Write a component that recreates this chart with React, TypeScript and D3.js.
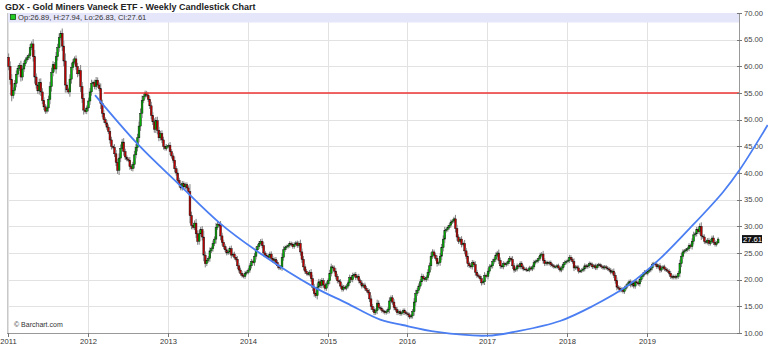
import React from "react";
import * as d3 from "d3";

// Weekly closes per year
const closes2011 = [60.0, 57.5, 54.5, 55.5, 56.8, 58.5, 59.6, 60.2, 58.0, 59.5, 60.5, 61.2, 61.6, 62.0, 63.5, 64.2, 61.8, 58.0, 56.5, 55.4, 57.0, 55.2, 53.6, 52.4, 51.6, 52.2, 53.8, 56.2, 58.8, 60.3, 59.5, 61.8, 63.5, 65.4, 66.2, 63.8, 61.0, 56.5, 55.6, 55.2, 57.6, 59.8, 60.8, 61.4, 60.0, 58.6, 59.2, 56.2, 54.0, 51.8, 51.5, 52.2];
const closes2012 = [53.5, 55.2, 56.8, 57.0, 56.2, 57.4, 56.5, 55.8, 53.0, 51.2, 50.0, 49.4, 48.6, 47.8, 46.2, 45.0, 44.8, 43.6, 42.0, 40.5, 42.8, 44.6, 45.8, 44.0, 43.0, 42.6, 42.4, 41.2, 40.8, 41.6, 43.4, 44.8, 46.6, 48.8, 51.2, 53.6, 54.4, 55.0, 54.6, 53.8, 52.6, 50.8, 49.6, 48.2, 49.8, 48.0, 46.6, 47.4, 46.2, 45.0, 44.6, 45.0];
const closes2013 = [45.2, 44.0, 43.2, 42.4, 40.8, 40.0, 38.6, 37.8, 37.2, 38.0, 37.4, 37.8, 37.2, 36.5, 32.0, 30.2, 29.8, 30.6, 28.6, 27.2, 28.6, 29.4, 28.0, 24.6, 23.0, 23.6, 24.0, 25.4, 25.8, 26.8, 27.6, 29.8, 30.4, 30.2, 28.2, 27.0, 26.2, 25.6, 25.0, 25.2, 25.8, 24.6, 24.8, 24.2, 23.8, 22.6, 21.8, 21.2, 20.8, 20.6, 21.2, 21.4];
const closes2014 = [21.8, 22.6, 23.4, 23.2, 24.4, 25.6, 26.2, 26.8, 27.2, 26.4, 25.0, 24.6, 24.4, 24.2, 24.8, 24.0, 23.6, 23.8, 23.2, 22.6, 22.2, 22.4, 24.2, 25.6, 26.0, 26.2, 26.4, 26.8, 26.6, 26.2, 26.6, 26.9, 26.4, 26.8, 25.2, 23.8, 22.4, 21.6, 21.2, 21.0, 21.4, 20.2, 18.6, 17.4, 17.0, 18.6, 19.6, 18.9, 19.8, 19.0, 18.4, 19.2];
const closes2015 = [19.8, 21.2, 22.4, 22.2, 21.6, 20.6, 19.8, 19.6, 18.8, 18.2, 18.6, 18.4, 18.8, 19.4, 20.4, 20.0, 20.8, 21.0, 20.4, 20.6, 19.8, 19.4, 18.8, 19.0, 18.4, 18.0, 17.6, 16.4, 15.0, 14.4, 13.8, 14.2, 15.6, 14.8, 14.6, 14.2, 14.0, 13.8, 14.0, 14.4, 16.0, 16.6, 15.8, 14.8, 14.4, 13.8, 14.0, 13.6, 13.8, 14.2, 13.8, 13.6];
const closes2016 = [13.4, 13.0, 13.2, 14.0, 15.8, 17.4, 18.0, 18.8, 19.6, 20.6, 20.2, 20.0, 20.4, 21.4, 22.6, 24.4, 25.2, 24.6, 24.0, 23.0, 23.2, 24.4, 26.0, 27.6, 29.2, 29.4, 29.8, 30.2, 30.8, 31.0, 31.4, 29.6, 28.0, 27.2, 27.6, 26.6, 26.8, 25.4, 24.4, 23.0, 22.6, 22.4, 23.2, 22.8, 21.4, 20.8, 20.6, 20.2, 19.4, 19.6, 20.8, 20.6];
const closes2017 = [21.6, 22.4, 22.6, 23.4, 23.8, 24.6, 25.0, 23.6, 22.6, 22.4, 23.0, 22.8, 23.0, 23.4, 24.0, 23.8, 22.6, 21.8, 22.0, 22.6, 22.4, 23.0, 22.4, 22.0, 22.0, 21.8, 21.8, 22.2, 22.0, 22.4, 23.2, 23.4, 23.6, 24.0, 24.6, 24.8, 23.6, 23.0, 23.2, 23.0, 23.2, 22.8, 22.6, 22.4, 22.4, 22.6, 22.2, 21.8, 22.2, 22.8, 23.2, 23.4];
const closes2018 = [23.6, 24.2, 23.8, 23.4, 22.2, 22.4, 22.2, 21.6, 21.6, 21.8, 22.0, 22.6, 22.4, 22.6, 23.0, 22.8, 22.4, 22.6, 22.2, 22.6, 22.8, 22.6, 22.4, 22.2, 22.4, 22.2, 22.0, 21.8, 21.4, 21.6, 20.8, 19.8, 18.6, 18.4, 18.0, 18.2, 17.8, 18.4, 18.8, 19.2, 19.6, 19.0, 19.4, 18.8, 19.6, 19.4, 19.2, 20.0, 20.6, 21.0, 21.4, 21.2];
const closes2019 = [21.6, 21.8, 22.2, 22.8, 23.0, 22.8, 22.4, 22.6, 21.8, 22.2, 22.4, 22.0, 21.8, 21.6, 21.2, 20.6, 20.4, 20.6, 20.4, 20.6, 21.2, 23.0, 24.4, 25.2, 25.4, 25.6, 25.8, 26.4, 26.2, 27.2, 28.4, 28.6, 29.4, 29.0, 30.0, 28.2, 28.0, 27.2, 27.0, 27.4, 26.8, 27.2, 27.8, 27.0, 26.6, 26.89, 27.61];

const yearList = [2011, 2012, 2013, 2014, 2015, 2016, 2017, 2018, 2019];
const closesByYear = [closes2011, closes2012, closes2013, closes2014, closes2015, closes2016, closes2017, closes2018, closes2019];

const firstOpen = 61.7;
const lastBar = { open: 26.89, high: 27.94, low: 26.83, close: 27.61 };

// Trend curve (decimal year, value)
const curveYears = [2012.09, 2012.63, 2013.13, 2013.65, 2014.15, 2014.82, 2015.24, 2015.66, 2015.94, 2016.37, 2017.0, 2017.4, 2017.91, 2018.32, 2018.75, 2019.16, 2019.54, 2019.95, 2020.16, 2020.51];
const curveValues = [54.6, 45.3, 38.0, 30.6, 25.0, 18.7, 15.6, 12.5, 11.5, 10.2, 9.5, 10.4, 12.25, 15.06, 18.8, 23.9, 29.7, 36.4, 40.6, 49.0];

const resistanceLevel = 55;
const resistanceStart = 2012.2;

const yTicks = [10, 15, 20, 25, 30, 35, 40, 45, 50, 55, 60, 65, 70];
const xTickYears = [2011, 2012, 2013, 2014, 2015, 2016, 2017, 2018, 2019];

const W = 768, H = 347;
const PL = 7, PR = 740, PT = 13, PB = 333;

function decYear(y: number) {
  const yr = Math.floor(y);
  const start = new Date(yr, 0, 1).getTime();
  const end = new Date(yr + 1, 0, 1).getTime();
  return new Date(start + (y - yr) * (end - start));
}

export default function App() {
  const x = d3.scaleTime().domain([new Date(2011, 0, 1), new Date(2020, 2, 1)]).range([PL + 1, PR]);
  const y = d3.scaleLinear().domain([10, 70]).range([PB, PT]);

  type Bar = { date: Date; open: number; high: number; low: number; close: number };
  const bars: Bar[] = [];
  let prev = firstOpen;
  yearList.forEach((yr, k) => {
    closesByYear[k].forEach((c, i) => {
      const o = prev;
      const hi = Math.max(o, c) + 0.3 + Math.abs(c - o) * 0.25;
      const lo = Math.min(o, c) - 0.3 - Math.abs(c - o) * 0.25;
      bars.push({ date: new Date(yr, 0, 4 + 7 * i), open: o, high: hi, low: lo, close: c });
      prev = c;
    });
  });
  const lb = bars[bars.length - 1];
  Object.assign(lb, lastBar);

  const curvePts = curveYears.map((cy, i) => [x(decYear(cy)), y(curveValues[i])] as [number, number]);
  const curvePath = d3.line().curve(d3.curveCatmullRom.alpha(0.5))(curvePts) || "";

  const font = "'Liberation Sans', Arial, sans-serif";
  const lastY = y(lastBar.close);

  return (
    <svg width={W} height={H} style={{ position: "absolute", left: 0, top: 0, background: "#fff" }} fontFamily={font}>
      <rect x={0} y={0} width={W} height={H} fill="#fff" />
      {/* grid */}
      {yTicks.map((t) => (
        <line key={"gy" + t} x1={PL} x2={PR} y1={Math.round(y(t)) + 0.5} y2={Math.round(y(t)) + 0.5} stroke="#e2e2e2" />
      ))}
      {xTickYears.map((yr) => (
        <line key={"gx" + yr} x1={Math.round(x(new Date(yr, 0, 1))) + 0.5} x2={Math.round(x(new Date(yr, 0, 1))) + 0.5} y1={PT} y2={PB} stroke="#e2e2e2" />
      ))}
      {/* header band */}
      <rect x={PL} y={PT} width={PR - PL} height={9.5} fill="#e6e6fa" />
      <rect x={10.5} y={14.5} width={5} height={5} fill="#22cc22" stroke="#115511" strokeWidth={0.8} />
      <text x={18} y={20} fontSize={7.6} fill="#333">Op:26.89, H:27.94, Lo:26.83, Cl:27.61</text>
      {/* left border */}
      <line x1={PL + 0.5} x2={PL + 0.5} y1={PT} y2={PB} stroke="#c8c8c8" />
      {/* candles */}
      {bars.map((b, i) => {
        const cx = x(b.date);
        const up = b.close >= b.open;
        const top = y(Math.max(b.open, b.close));
        const bot = y(Math.min(b.open, b.close));
        return (
          <g key={i}>
            <line x1={cx} x2={cx} y1={y(b.high)} y2={y(b.low)} stroke="#808080" strokeWidth={1} />
            <rect x={cx - 0.9} y={top} width={1.8} height={Math.max(0.8, bot - top)} fill={up ? "#00b000" : "#c00000"} stroke="#111" strokeWidth={0.45} />
          </g>
        );
      })}
      {/* resistance */}
      <line x1={x(decYear(resistanceStart))} x2={PR} y1={y(resistanceLevel)} y2={y(resistanceLevel)} stroke="#ee3333" strokeWidth={1.5} />
      {/* axes */}
      <line x1={PL} x2={PR} y1={PB + 0.5} y2={PB + 0.5} stroke="#999" />
      <line x1={PR - 0.5} x2={PR - 0.5} y1={PT} y2={PB + 1} stroke="#999" />
      {yTicks.map((t) => (
        <g key={"ty" + t}>
          <line x1={PR - 3} x2={PR + 2} y1={Math.round(y(t)) + 0.5} y2={Math.round(y(t)) + 0.5} stroke="#777" />
          <text x={PR + 4} y={y(t) + 2.7} fontSize={7.6} fill="#444">{t.toFixed(2)}</text>
        </g>
      ))}
      {xTickYears.map((yr) => {
        const px = Math.round(x(new Date(yr, 0, 1))) + 0.5;
        return (
          <g key={"tx" + yr}>
            <line x1={px} x2={px} y1={PB} y2={PB + 4} stroke="#777" />
            <text x={px} y={PB + 10.5} fontSize={7.6} fill="#333" textAnchor="middle">{yr}</text>
          </g>
        );
      })}
      {/* trend curve */}
      <path d={curvePath} fill="none" stroke="#4a7ef2" strokeWidth={1.8} />
      {/* last price box */}
      <rect x={PR + 2} y={lastY - 4} width={20} height={8} fill="#111" />
      <text x={PR + 3} y={lastY + 2.7} fontSize={7.6} fill="#fff">{lastBar.close.toFixed(2)}</text>
      {/* credit */}
      <text x={14} y={327} fontSize={7} fill="#333">© Barchart.com</text>
      {/* title */}
      <text x={5} y={10} fontSize={9} fontWeight="bold" fill="#222">GDX - Gold Miners Vaneck ETF - Weekly Candlestick Chart</text>
    </svg>
  );
}
